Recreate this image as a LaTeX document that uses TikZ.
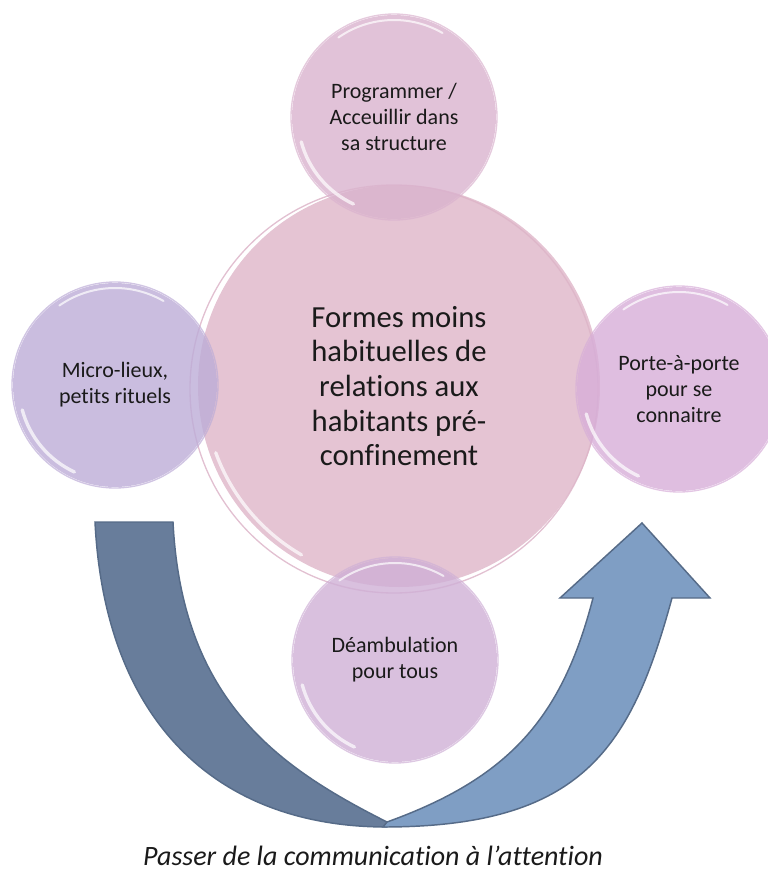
\documentclass[tikz,border=0pt]{standalone}
\usepackage{fontspec}
\setmainfont{Carlito}[Ligatures={TeX,NoCommon}]
\usetikzlibrary{calc}
\definecolor{BubbleInk}{HTML}{1A1A1A}
\definecolor{HubPink}{HTML}{DEB5C8}
\definecolor{HubRing}{HTML}{D6A6BE}
\definecolor{TopPink}{HTML}{DAB3CE}
\definecolor{LeftLilac}{HTML}{BDADD7}
\definecolor{RightOrchid}{HTML}{D7AED8}
\definecolor{BottomOrchid}{HTML}{CFB0D6}
\definecolor{SwingDark}{HTML}{687D9B}
\definecolor{SwingLight}{HTML}{7F9EC4}
\definecolor{SwingEdge}{HTML}{566B88}
\tikzset{
  every node/.style={text=BubbleInk},
  bubble/.style={circle, inner sep=0pt, align=center, fill opacity=0.8, text opacity=1},
  ring/.style={line width=1pt, draw opacity=0.7},
  gloss/.style={draw=white, line width=2.5pt, draw opacity=0.7, line cap=round},
  swing/.style={draw=SwingEdge, line width=1.1pt, line join=miter},
  small/.style={font=\fontsize{16.5}{19.5}\selectfont},
}

\begin{document}
\begin{tikzpicture}[x=0.75pt, y=-0.75pt]
  % all coordinates in px, y grows downwards
  \useasboundingbox (0,0) rectangle (768,872);

  % curved arrow: dark half going down, light half coming back up
  \draw[swing, fill=SwingDark] (95,522) -- (173,522)
    .. controls (182,702) and (280,768) .. (387,822)
    -- (387,827) .. controls (217,827) and (105,722) .. cycle;
  \draw[swing, fill=SwingLight] (383,827)
    .. controls (583,827) and (631,748) .. (672,598)
    -- (710,598) -- (642,523) -- (560,598) -- (593,598)
    .. controls (562,718) and (509,778) .. (387,822) -- cycle;

  % central bubble
  \draw[ring, HubRing] (394,389) circle (204);
  \node[bubble, fill=HubPink, minimum size=301.5pt,
        font=\fontsize{23}{26}\selectfont] (hub) at (399,386)
    {Formes moins\\habituelles de\\relations aux\\habitants pré-\\confinement};
  \draw[gloss] ($(hub.center)+(120:195)$) arc[start angle=120, end angle=160, radius=195];

  % bubbles around it
  \foreach \name/\cx/\cy/\col/\txt in {
    prog/394/117/TopPink/{Programmer /\\Acceuillir dans\\sa structure},
    micro/115/385/LeftLilac/{Micro-lieux,\\petits rituels},
    porte/679/389/RightOrchid/{Porte-à-porte\\pour se\\connaitre},
    deamb/395/660/BottomOrchid/{Déambulation\\pour tous}}{
    \draw[ring, \col] (\cx,\cy) circle (103);
    \node[bubble, small, fill=\col, minimum size=153pt] (\name) at (\cx,\cy) {\txt};
    \draw[gloss] ($(\name.center)+(115:96)$) arc[start angle=115, end angle=165, radius=96];
    \draw[gloss, line width=1.5pt] ($(\name.center)+(235:97)$) arc[start angle=235, end angle=300, radius=97];
  }

  \node[font=\itshape\fontsize{21}{25}\selectfont, anchor=base] (caption) at (373,865)
    {Passer de la communication à l’attention};
\end{tikzpicture}
\end{document}
